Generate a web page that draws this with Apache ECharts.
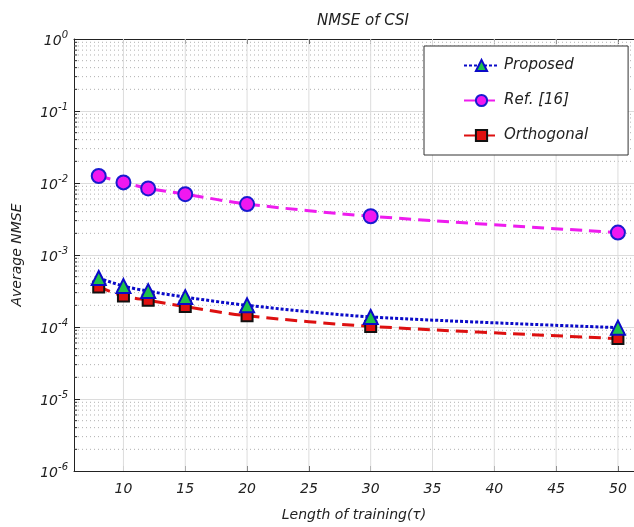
<!DOCTYPE html>
<html><head><meta charset="utf-8">
<script src="https://cdn.jsdelivr.net/npm/echarts@6/dist/echarts.min.js"></script>
<style>html,body{margin:0;padding:0;background:#fff}#c{width:634px;height:527px}</style>
</head><body><div id="c"></div>
<script>
var xValues = [8, 10, 12, 15, 20, 30, 50];
var proposed = [4.8e-4, 3.7e-4, 3.15e-4, 2.6e-4, 2.0e-4, 1.38e-4, 9.8e-5];
var ref16 = [1.25e-2, 1.02e-2, 8.4e-3, 7.0e-3, 5.1e-3, 3.45e-3, 2.05e-3];
var orthogonal = [3.6e-4, 2.7e-4, 2.35e-4, 1.92e-4, 1.43e-4, 1.02e-4, 6.9e-5];
var xTicks = [10, 15, 20, 25, 30, 35, 40, 45, 50];
var yDecades = [1e-6, 1e-5, 1e-4, 1e-3, 1e-2, 1e-1, 1];
var xMin = 6, xMax = 51.3;

function pairs(ys){ return xValues.map(function(x,i){ return [x, ys[i]]; }); }
var minorY = [];
for (var e = -6; e < 0; e++) for (var m = 2; m <= 9; m++) minorY.push(m * Math.pow(10, e));

var FONT = 'DejaVu Sans';
var chart = echarts.init(document.getElementById('c'), null, {renderer: 'canvas'});

var extra = [];
function seg(data, style, z){
  extra.push({type: 'line', data: data, z: z, silent: true, symbol: 'none', showSymbol: false,
    legendHoverLink: false, tooltip: {show: false}, lineStyle: style, emphasis: {disabled: true}});
}
minorY.forEach(function(v){
  seg([[xMin, v], [xMax, v]], {type: [1, 3], color: '#b0b0b0', width: 1}, 1);
  seg([[xMin, v], [xMin + 0.25, v]], {type: 'solid', color: '#222', width: 1}, 2);
});
xTicks.forEach(function(x){
  seg([[x, 1e-6], [x, 1]], {type: 'solid', color: '#dcdcdc', width: 1}, 1);
});

var mainSeries = [
    {type: 'line', name: 'Proposed', data: pairs(proposed), z: 5, smooth: 0.3,
     symbol: 'triangle', symbolSize: 14,
     lineStyle: {color: '#0a0ac8', width: 3, type: [3, 2]},
     itemStyle: {color: '#1fc24a', borderColor: '#0a0ac8', borderWidth: 2}},
    {type: 'line', name: 'Ref. [16]', data: pairs(ref16), z: 4, smooth: 0.3,
     symbol: 'circle', symbolSize: 14,
     lineStyle: {color: '#ee1cee', width: 3, type: [12, 7]},
     itemStyle: {color: '#f018f0', borderColor: '#1a1ad0', borderWidth: 2}},
    {type: 'line', name: 'Orthogonal', data: pairs(orthogonal), z: 4, smooth: 0.3,
     symbol: 'rect', symbolSize: 11,
     lineStyle: {color: '#dd1010', width: 3, type: [12, 7]},
     itemStyle: {color: '#e01010', borderColor: '#111', borderWidth: 2}}
];

chart.setOption({
  animation: false,
  title: {text: 'NMSE of CSI', left: 358, top: 9, textAlign: 'center',
    textStyle: {fontFamily: FONT, fontStyle: 'italic', fontWeight: 'normal', fontSize: 15, color: '#222'}},
  grid: {left: 74, top: 39, right: 0, height: 435},
  legend: {orient: 'vertical', left: 424, top: 46, itemWidth: 35, itemHeight: 14, itemGap: 20,
    padding: [12, 40, 12, 39], backgroundColor: '#fff', borderColor: '#333', borderWidth: 1,
    textStyle: {fontFamily: FONT, fontStyle: 'italic', fontSize: 15, color: '#222'},
    data: ['Proposed', 'Ref. [16]', 'Orthogonal']},
  xAxis: [{type: 'value', min: xMin, max: xMax, position: 'bottom',
    name: 'Length of training(\u03C4)', nameLocation: 'middle', nameGap: 37,
    nameTextStyle: {fontFamily: FONT, fontStyle: 'italic', fontSize: 14, color: '#222'},
    axisLine: {lineStyle: {color: '#222', width: 1}},
    axisTick: {inside: true, length: 5, customValues: xTicks, lineStyle: {color: '#222'}},
    axisLabel: {customValues: xTicks, margin: 11, fontFamily: FONT, fontStyle: 'italic', fontSize: 14, color: '#222'},
    splitLine: {show: false}},
   {type: 'value', min: xMin, max: xMax, position: 'top',
    axisLine: {lineStyle: {color: '#222', width: 1}},
    axisTick: {inside: true, length: 5, customValues: xTicks, lineStyle: {color: '#222'}},
    axisLabel: {show: false}, splitLine: {show: false}}],
  yAxis: {type: 'log', logBase: 10, min: 1e-6, max: 1, interval: 1,
    name: 'Average NMSE', nameLocation: 'middle', nameGap: 50,
    nameTextStyle: {fontFamily: FONT, fontStyle: 'italic', fontSize: 14, color: '#222'},
    axisLine: {show: true, lineStyle: {color: '#222', width: 1}},
    axisTick: {show: true, inside: true, length: 6, lineStyle: {color: '#222'}},
    axisLabel: {margin: 6, formatter: function(v){ return '{a|10}{b|' + Math.round(Math.log10(v)) + '}'; },
      rich: {a: {fontFamily: FONT, fontStyle: 'italic', fontSize: 14, color: '#222', padding: [4, 0, 0, 0]},
             b: {fontFamily: FONT, fontStyle: 'italic', fontSize: 10, color: '#222', padding: [0, 0, 8, 0]}}},
    splitLine: {show: true, lineStyle: {color: '#dcdcdc', width: 1}}},
  series: extra.concat(mainSeries)
});
</script></body></html>
